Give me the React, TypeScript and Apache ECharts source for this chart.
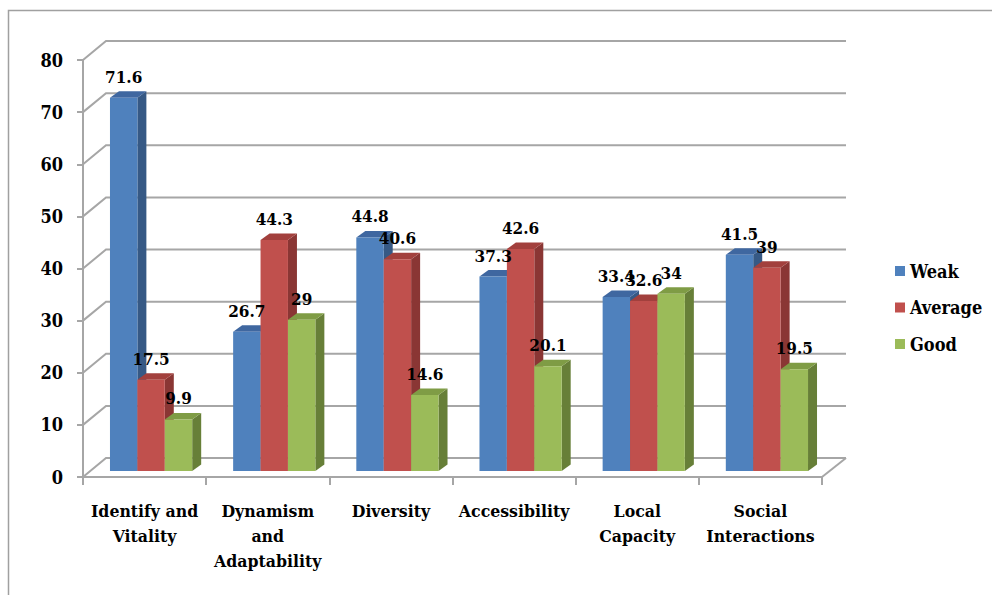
import React, { useEffect, useRef } from "react";
import * as echarts from "echarts";

const categories = [
  "Identify and\nVitality",
  "Dynamism\nand\nAdaptability",
  "Diversity",
  "Accessibility",
  "Local\nCapacity",
  "Social\nInteractions",
];
const weak = [71.6, 26.7, 44.8, 37.3, 33.4, 41.5];
const average = [17.5, 44.3, 40.6, 42.6, 32.6, 39];
const good = [9.9, 29, 14.6, 20.1, 34, 19.5];
const yTicks = [0, 10, 20, 30, 40, 50, 60, 70, 80];

const FONT = "DejaVu Serif Condensed";
const FS_AXIS = 17.5;
const FS_LABEL = 17;
const FS_LEGEND = 18;
const WALL_DX = 23;
const WALL_DY = -19;
const FRONT_DX = 6.5;
const FRONT_DY = -6;
const DEPTH_DX = 9;
const DEPTH_DY = -6.5;
const GRID_COLOR = "#a6a6a6";

const palettes = [
  { front: "#4f81bd", top: "#3f67a0", side: "#365985" },
  { front: "#c0504d", top: "#a2403d", side: "#8a3634" },
  { front: "#9bbb59", top: "#7f9c45", side: "#677f38" },
];

function makeBarRender(k: number) {
  const pal = palettes[k];
  return (params: any, api: any) => {
    const idx = api.value(0);
    const val = api.value(1);
    const base = api.coord([idx, 0]);
    const topPt = api.coord([idx, val]);
    const band = api.size([1, 0])[0];
    const w = band * 0.2225;
    const x = base[0] - 1.5 * w + k * w + FRONT_DX;
    const y0 = base[1] + FRONT_DY;
    const y1 = topPt[1] + FRONT_DY;
    return {
      type: "group",
      children: [
        {
          type: "polygon",
          shape: {
            points: [
              [x + w, y1],
              [x + w + DEPTH_DX, y1 + DEPTH_DY],
              [x + w + DEPTH_DX, y0 + DEPTH_DY],
              [x + w, y0],
            ],
          },
          style: { fill: pal.side },
        },
        {
          type: "polygon",
          shape: {
            points: [
              [x, y1],
              [x + DEPTH_DX, y1 + DEPTH_DY],
              [x + w + DEPTH_DX, y1 + DEPTH_DY],
              [x + w, y1],
            ],
          },
          style: { fill: pal.top },
        },
        {
          type: "rect",
          shape: { x: x, y: y1, width: w, height: y0 - y1 },
          style: { fill: pal.front },
        },
        {
          type: "text",
          z2: 100,
          x: x + w / 2,
          y: y1 - 21,
          style: {
            text: String(val),
            fill: "#000",
            fontFamily: FONT,
            fontWeight: "bold",
            fontSize: FS_LABEL,
            align: "center",
            verticalAlign: "middle",
          },
        },
      ],
    };
  };
}

function wallRender(params: any, api: any) {
  const v = api.value(0);
  const cs = params.coordSys;
  const x0 = cs.x;
  const x1 = cs.x + cs.width;
  const yF = api.coord([0, v])[1];
  const children: any[] = [
    {
      type: "polyline",
      shape: {
        points: [
          [x0, yF],
          [x0 + WALL_DX, yF + WALL_DY],
          [x1 + WALL_DX + 1, yF + WALL_DY],
        ],
      },
      style: { stroke: GRID_COLOR, lineWidth: 2, fill: null },
    },
  ];
  if (v === 0) {
    children.push({
      type: "line",
      shape: { x1: x1, y1: yF, x2: x1 + WALL_DX + 1, y2: yF + WALL_DY },
      style: { stroke: GRID_COLOR, lineWidth: 2 },
    });
  }
  return { type: "group", children };
}

export default function App() {
  const ref = useRef<HTMLDivElement>(null);
  useEffect(() => {
    if (!ref.current) return;
    const chart = echarts.init(ref.current, null, { renderer: "svg" });
    const seriesData = [weak, average, good];
    const names = ["Weak", "Average", "Good"];
    chart.setOption({
      animation: false,
      backgroundColor: "#fff",
      textStyle: { fontFamily: FONT },
      grid: { left: 83, right: 170, top: 60, bottom: 118, containLabel: false },
      graphic: [
        {
          type: "rect",
          shape: { x: 8.5, y: 10.5, width: 1200, height: 800 },
          style: { fill: null, stroke: "#a0a0a0", lineWidth: 1.5 },
          silent: true,
        },
      ],
      legend: {
        orient: "vertical",
        left: 890,
        top: 256,
        itemWidth: 10,
        itemHeight: 10,
        itemGap: 16.5,
        icon: "rect",
        data: names,
        textStyle: {
          fontFamily: FONT,
          fontWeight: "bold",
          fontSize: FS_LEGEND,
          lineHeight: 20,
          color: "#000",
        },
      },
      xAxis: {
        type: "category",
        data: categories,
        axisLine: { show: true, lineStyle: { color: GRID_COLOR, width: 2 } },
        axisTick: { show: true, length: 8, lineStyle: { color: GRID_COLOR, width: 2 } },
        axisLabel: {
          interval: 0,
          margin: 21,
          fontFamily: FONT,
          fontWeight: "bold",
          fontSize: FS_AXIS,
          lineHeight: 25,
          color: "#000",
        },
        splitLine: { show: false },
      },
      yAxis: {
        type: "value",
        min: 0,
        max: 80,
        interval: 10,
        axisLine: { show: true, lineStyle: { color: GRID_COLOR, width: 2 } },
        axisTick: { show: true, length: 6, lineStyle: { color: GRID_COLOR, width: 2 } },
        axisLabel: {
          margin: 20,
          fontFamily: FONT,
          fontWeight: "bold",
          fontSize: 18,
          color: "#000",
        },
        splitLine: { show: false },
      },
      series: [
        {
          type: "custom",
          name: "walls",
          z: 1,
          silent: true,
          renderItem: wallRender,
          data: yTicks.map((v) => [v]),
          encode: { y: 0 },
        },
        ...seriesData.map((arr, k) => ({
          type: "custom",
          name: names[k],
          z: 2,
          itemStyle: { color: palettes[k].front },
          renderItem: makeBarRender(k),
          data: arr.map((v, i) => [i, v]),
          encode: { x: 0, y: 1 },
        })),
      ],
    });
    return () => chart.dispose();
  }, []);
  return (
    <div
      ref={ref}
      style={{ position: "absolute", left: 0, top: 0, width: 992, height: 595 }}
    />
  );
}
